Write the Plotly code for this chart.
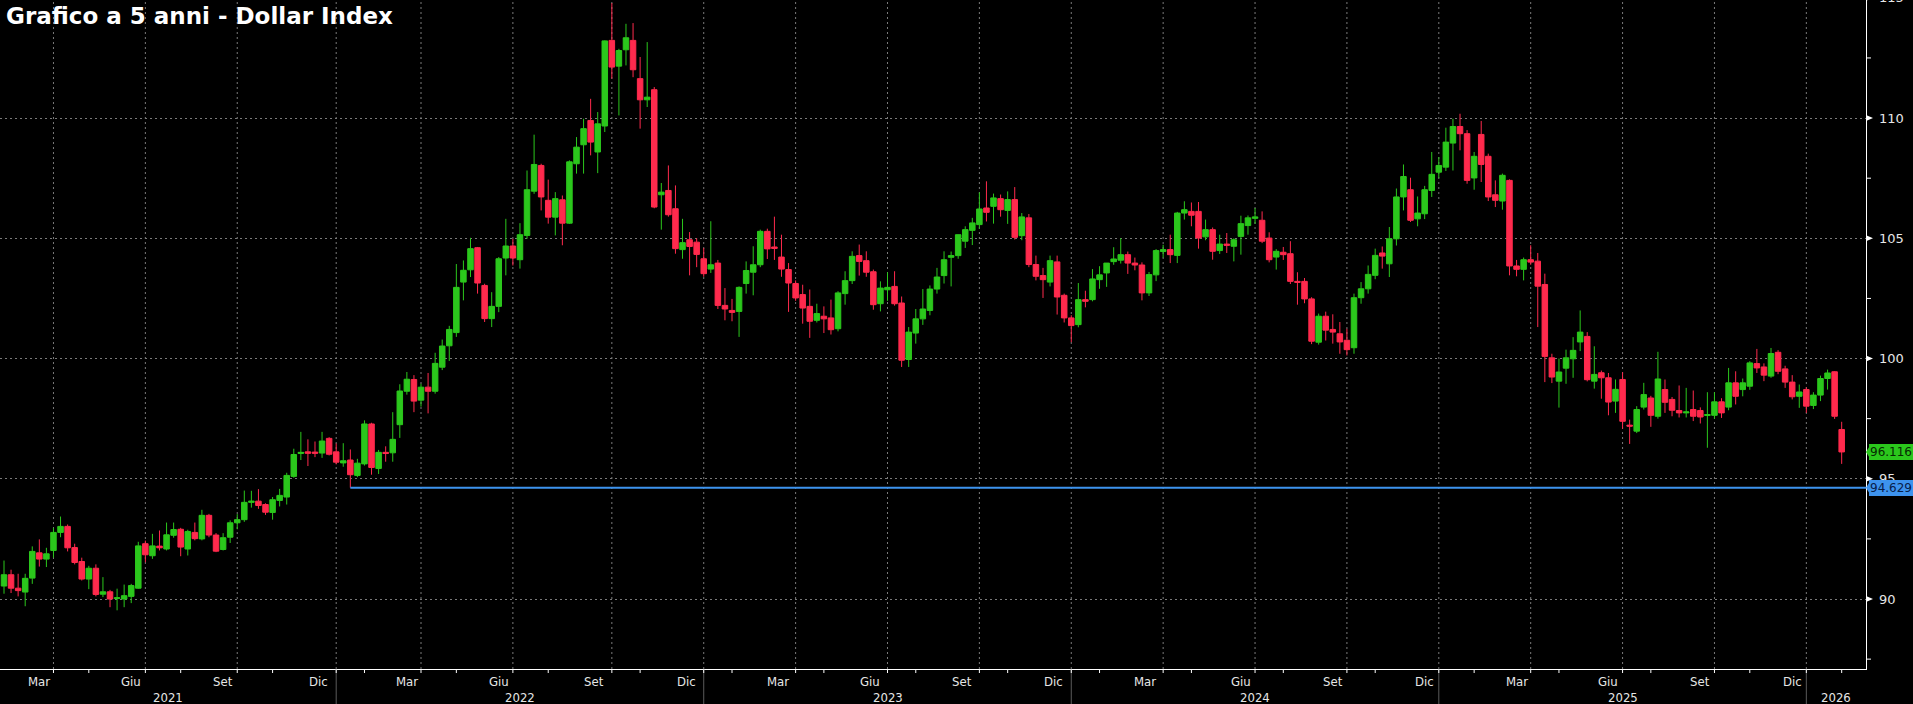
import pandas as pd
import plotly.graph_objects as go

# ---------------- data (weekly candles, Dollar Index) ----------------
first_week = "2021-02-05"

opens = [
    90.54, 91.01, 90.45, 90.29, 90.87, 91.92, 91.66, 92.02, 92.77, 93.02,
    92.14, 91.56, 90.83, 91.28, 90.20, 90.30, 90.02, 90.00, 90.11, 90.45,
    92.30, 91.80, 92.20, 92.08, 92.65, 92.90, 92.08, 92.77, 92.50, 93.48,
    92.66, 92.06, 92.57, 93.17, 93.30, 94.02, 94.07, 93.93, 93.60, 94.10,
    94.24, 95.10, 96.05, 96.12, 96.11, 96.07, 96.68, 96.12, 95.66, 95.78,
    95.14, 95.62, 97.28, 95.43, 96.10, 96.08, 97.25, 98.64, 99.13, 98.27,
    98.81, 98.64, 99.64, 100.53, 101.08, 103.18, 103.69, 104.61, 103.04, 101.66,
    102.17, 104.18, 104.68, 104.11, 105.12, 106.96, 108.03, 106.58, 105.88, 106.60,
    105.63, 108.10, 108.89, 109.90, 108.59, 109.67, 113.23, 112.16, 112.84, 113.23,
    111.64, 110.76, 111.18, 106.81, 106.99, 106.23, 104.53, 104.94, 104.84, 104.15,
    103.72, 103.97, 102.21, 102.00, 101.96, 103.12, 103.59, 103.90, 105.29, 104.64,
    104.22, 103.70, 103.12, 102.66, 102.17, 101.59, 101.76, 101.69, 101.24, 102.70,
    103.24, 104.28, 104.07, 103.61, 102.28, 102.86, 103.00, 102.31, 99.96, 101.06,
    101.65, 102.00, 102.89, 103.45, 104.21, 104.28, 104.88, 105.33, 105.57, 106.26,
    106.33, 106.65, 106.16, 106.61, 105.11, 105.85, 103.91, 103.45, 103.18, 104.02,
    102.63, 101.69, 101.41, 102.45, 102.45, 103.28, 103.56, 104.03, 104.09, 104.32,
    103.97, 103.89, 102.73, 103.48, 104.45, 104.53, 104.29, 106.05, 106.12, 106.12,
    105.06, 105.36, 104.49, 104.76, 104.67, 105.08, 105.53, 105.83, 105.75, 105.01,
    104.22, 104.42, 104.36, 103.21, 103.21, 102.48, 100.68, 101.76, 101.21, 101.03,
    100.76, 100.45, 102.53, 102.90, 103.46, 104.39, 103.94, 104.98, 106.72, 107.02,
    105.81, 106.02, 106.99, 107.75, 107.96, 108.96, 109.65, 109.35, 107.51, 109.32,
    108.41, 106.81, 106.55, 107.41, 103.85, 103.71, 104.11, 104.05, 103.08, 100.03,
    99.06, 99.60, 99.99, 100.69, 100.92, 99.06, 99.41, 99.20, 98.23, 99.13,
    97.23, 96.98, 97.98, 98.36, 97.60, 98.71, 98.30, 97.84, 97.74, 97.88,
    97.84, 97.63, 97.64, 98.20, 97.98, 98.99, 98.71, 98.85, 99.79, 99.65,
    99.27, 100.26, 99.57, 99.02, 98.43, 98.71, 98.05, 98.48, 99.17, 99.45, 97.05,
]

highs = [
    91.60, 91.22, 91.05, 91.05, 92.19, 92.48, 92.13, 92.96, 93.43, 93.10,
    92.30, 91.72, 91.38, 91.44, 90.91, 90.38, 90.43, 90.60, 90.63, 92.38,
    92.43, 92.71, 92.85, 93.18, 93.18, 92.96, 92.88, 93.18, 93.71, 93.54,
    92.74, 92.74, 93.27, 93.53, 94.51, 94.50, 94.57, 93.98, 94.24, 94.58,
    95.25, 96.25, 96.95, 96.64, 96.55, 96.95, 96.73, 96.47, 96.48, 96.22,
    95.83, 97.43, 97.33, 96.20, 96.35, 97.77, 98.93, 99.44, 99.31, 98.95,
    99.40, 100.24, 100.79, 101.36, 103.93, 104.08, 105.02, 104.64, 103.11, 102.76,
    104.22, 105.81, 104.98, 105.63, 107.82, 109.31, 108.10, 107.44, 106.92, 106.78,
    108.24, 109.21, 109.97, 110.80, 110.25, 113.23, 114.78, 112.88, 113.92, 113.95,
    112.54, 113.16, 111.29, 107.30, 108.03, 107.20, 105.81, 105.26, 105.00, 104.60,
    105.71, 104.10, 102.93, 102.48, 103.00, 104.04, 104.67, 105.36, 105.40, 105.90,
    105.15, 103.97, 103.25, 103.07, 102.87, 102.28, 102.17, 102.45, 102.80, 103.63,
    104.46, 104.74, 104.46, 103.70, 103.21, 103.59, 103.63, 102.58, 101.31, 102.06,
    102.89, 103.04, 103.77, 104.46, 104.45, 105.16, 105.50, 105.85, 106.91, 107.37,
    106.86, 106.82, 106.95, 107.13, 106.05, 106.01, 104.28, 103.77, 104.28, 104.28,
    102.70, 101.80, 103.14, 102.82, 103.72, 103.84, 103.97, 104.63, 105.01, 104.45,
    104.20, 104.00, 103.60, 104.55, 104.73, 105.15, 106.10, 106.54, 106.49, 106.51,
    105.78, 105.45, 105.15, 105.22, 105.00, 105.94, 105.95, 106.26, 106.12, 105.25,
    104.55, 104.64, 104.88, 103.59, 103.35, 102.55, 101.87, 101.95, 101.84, 101.52,
    101.24, 102.70, 103.18, 103.87, 104.57, 104.66, 105.47, 107.07, 108.07, 107.52,
    106.74, 107.18, 108.59, 108.38, 109.60, 109.97, 110.18, 109.50, 108.59, 109.88,
    108.52, 107.41, 107.69, 107.45, 104.10, 104.20, 104.71, 104.39, 103.53, 100.20,
    100.00, 100.37, 100.89, 102.00, 101.10, 100.51, 99.50, 99.40, 99.13, 99.43,
    97.46, 98.02, 98.99, 98.45, 100.28, 99.13, 98.40, 98.88, 98.78, 98.67,
    97.97, 98.60, 98.60, 98.35, 99.61, 99.47, 99.17, 99.89, 100.40, 99.80,
    100.44, 100.35, 99.70, 99.31, 98.92, 98.80, 98.60, 99.29, 99.54, 99.47, 97.37,
]

lows = [
    90.22, 90.25, 90.11, 89.70, 90.63, 91.35, 91.33, 91.72, 92.57, 91.98,
    91.44, 90.77, 90.41, 90.11, 90.08, 89.66, 89.53, 89.66, 89.83, 90.43,
    91.53, 91.67, 92.02, 92.02, 92.55, 91.78, 91.81, 92.44, 92.44, 92.57,
    91.95, 92.02, 92.33, 92.90, 93.21, 93.80, 93.75, 93.50, 93.30, 93.85,
    93.93, 95.04, 95.78, 95.53, 95.90, 95.87, 95.97, 95.60, 95.50, 94.63,
    95.07, 95.55, 95.17, 95.20, 95.71, 95.71, 96.70, 98.50, 97.77, 98.00,
    97.72, 98.54, 99.52, 99.90, 100.90, 102.42, 103.39, 102.70, 101.52, 101.31,
    101.93, 103.46, 103.87, 103.74, 104.98, 106.85, 106.16, 105.61, 105.12, 104.71,
    105.60, 107.69, 107.69, 108.45, 107.71, 109.42, 111.64, 110.11, 112.19, 111.70,
    109.56, 110.46, 106.25, 105.36, 105.90, 104.36, 104.15, 103.46, 103.80, 103.40,
    103.56, 102.06, 101.59, 101.55, 100.90, 102.70, 102.63, 103.80, 104.14, 104.10,
    103.40, 101.94, 102.40, 101.45, 100.86, 101.50, 101.06, 101.00, 101.13, 102.24,
    103.10, 103.45, 103.40, 102.03, 101.96, 102.40, 102.20, 99.65, 99.65, 100.62,
    101.40, 101.80, 102.70, 103.12, 103.00, 104.15, 104.60, 104.72, 105.40, 105.70,
    105.61, 105.90, 105.60, 104.95, 104.92, 103.80, 103.25, 102.52, 103.00, 101.83,
    101.50, 100.68, 101.30, 102.13, 102.38, 102.90, 102.98, 103.90, 103.95, 103.52,
    103.67, 102.42, 102.60, 103.22, 104.20, 103.97, 103.97, 105.78, 105.50, 104.57,
    104.92, 104.11, 104.35, 104.39, 104.04, 104.32, 105.15, 105.60, 104.80, 104.00,
    103.70, 104.10, 103.10, 102.24, 102.30, 100.60, 100.58, 100.75, 100.62, 100.20,
    100.13, 100.20, 102.28, 102.70, 103.30, 103.74, 103.39, 104.70, 106.16, 105.68,
    105.50, 105.80, 106.72, 107.50, 107.80, 107.82, 108.66, 107.27, 107.02, 107.34,
    106.55, 106.30, 106.19, 103.46, 103.42, 103.25, 103.90, 101.31, 99.02, 98.98,
    97.96, 98.95, 99.20, 100.31, 99.05, 98.75, 98.33, 97.64, 97.74, 97.08,
    96.45, 96.90, 97.88, 97.16, 97.50, 97.74, 97.60, 97.55, 97.55, 97.40,
    97.30, 96.29, 97.50, 97.53, 97.85, 98.09, 98.43, 98.70, 99.40, 99.06,
    99.20, 99.35, 98.78, 98.30, 97.95, 97.74, 97.90, 98.23, 98.71, 97.49, 95.62,
]

closes = [
    91.01, 90.45, 90.35, 90.86, 91.98, 91.66, 91.88, 92.77, 93.02, 92.13,
    91.52, 90.83, 91.28, 90.19, 90.30, 90.00, 90.05, 90.14, 90.56, 92.21,
    91.84, 92.21, 92.13, 92.67, 92.89, 92.16, 92.81, 92.51, 93.48, 92.66,
    91.99, 92.55, 93.17, 93.30, 94.02, 94.07, 93.89, 93.61, 94.13, 94.31,
    95.14, 96.01, 96.10, 96.06, 96.06, 96.57, 96.02, 95.69, 95.75, 95.17,
    95.65, 97.28, 95.47, 96.10, 96.05, 96.64, 98.65, 99.14, 98.23, 98.81,
    98.64, 99.80, 100.52, 101.21, 102.96, 103.67, 104.57, 103.14, 101.66, 102.17,
    104.15, 104.68, 104.18, 105.15, 107.02, 108.07, 106.72, 105.88, 106.65, 105.63,
    108.18, 108.79, 109.56, 109.00, 109.76, 113.21, 112.12, 112.81, 113.34, 112.01,
    110.76, 110.87, 106.30, 106.92, 105.98, 104.57, 104.82, 104.66, 104.33, 103.53,
    103.90, 102.21, 102.06, 101.92, 102.96, 103.66, 103.90, 105.29, 104.56, 104.58,
    103.72, 103.14, 102.52, 102.10, 101.55, 101.87, 101.65, 101.20, 102.73, 103.24,
    104.25, 104.04, 103.59, 102.24, 102.93, 102.96, 102.28, 99.93, 101.10, 101.65,
    102.06, 102.89, 103.39, 104.11, 104.28, 105.15, 105.36, 105.64, 106.22, 106.08,
    106.68, 106.19, 106.61, 105.04, 105.89, 103.91, 103.42, 103.28, 104.07, 102.56,
    101.69, 101.37, 102.45, 102.38, 103.31, 103.48, 103.97, 104.14, 104.32, 103.97,
    103.89, 102.73, 103.49, 104.49, 104.53, 104.32, 106.05, 106.19, 105.96, 105.01,
    105.36, 104.46, 104.76, 104.71, 104.94, 105.61, 105.85, 105.89, 104.88, 104.11,
    104.46, 104.32, 103.21, 103.17, 102.48, 100.72, 101.76, 101.18, 101.10, 100.69,
    100.37, 102.53, 102.90, 103.50, 104.29, 104.26, 104.98, 106.72, 107.57, 105.75,
    106.05, 107.02, 107.66, 108.03, 109.00, 109.65, 109.35, 107.41, 108.41, 108.07,
    106.72, 106.58, 107.62, 103.85, 103.71, 104.11, 104.01, 103.01, 100.09, 99.23,
    99.44, 100.03, 100.34, 101.10, 99.12, 99.34, 99.20, 98.19, 98.72, 97.39,
    97.19, 97.88, 98.50, 97.64, 99.15, 98.18, 97.85, 97.74, 97.78, 97.60,
    97.57, 97.67, 98.20, 97.74, 98.99, 98.43, 98.99, 99.82, 99.61, 99.31,
    100.21, 99.47, 99.02, 98.41, 98.61, 98.02, 98.48, 99.17, 99.40, 97.60, 96.116,
]

support_level = 94.629
support_from = "2022-01-14"

title_text = "Grafico a 5 anni - Dollar Index"
month_names = {3: "Mar", 6: "Giu", 9: "Set", 12: "Dic"}
y_major = [90, 95, 100, 105, 110, 115]
y_minor = [87.5, 92.5, 97.5, 102.5, 107.5, 112.5]
x_range = ["2021-02-01 01:00", "2026-02-23 02:00"]
y_range = [87.09, 114.91]

# ---------------- styling ----------------
GREEN = "#2bc71c"
RED = "#ff2a4d"
BLUE = "#3d93ee"
GRID = "#7a7a7a"
TEXT = "#e6e6e6"
AX_FONT = "DejaVu Sans, Verdana, sans-serif"
X_FONT = "Liberation Sans Narrow, Arial Narrow, DejaVu Sans Condensed, Liberation Sans, sans-serif"

W, H = 1913, 704
M_L, M_R, M_T, M_B = 0, 47, 0, 35
PLOT_H = H - M_T - M_B


def y_paper(v):
    return (v - y_range[0]) / (y_range[1] - y_range[0])


dates = pd.date_range(first_week, periods=len(closes), freq="W-FRI")

fig = go.Figure()
fig.add_trace(go.Candlestick(
    x=dates, open=opens, high=highs, low=lows, close=closes,
    increasing=dict(line=dict(color=GREEN, width=1), fillcolor=GREEN),
    decreasing=dict(line=dict(color=RED, width=1), fillcolor=RED),
    whiskerwidth=0, showlegend=False, hoverinfo="skip",
))

x_end = pd.Timestamp(x_range[1])
fig.add_trace(go.Scatter(
    x=[pd.Timestamp(support_from), x_end], y=[support_level, support_level],
    mode="lines", line=dict(color=BLUE, width=2), showlegend=False, hoverinfo="skip",
))

# month-end bars
month_end = [i for i in range(len(dates))
             if i == len(dates) - 1 or dates[i + 1].month != dates[i].month]
quarter_ends = [dates[i] for i in month_end if dates[i].month in (3, 6, 9, 12)]
year_ends = [dates[i] for i in month_end if dates[i].month == 12]
tick_bars = [dates[i] for i in month_end if dates[i].month in (1, 3, 4, 6, 7, 9, 10, 12)]

shapes = []
annotations = []

for d in quarter_ends:
    shapes.append(dict(type="line", xref="x", yref="paper", x0=d, x1=d, y0=0, y1=1,
                       line=dict(color=GRID, width=1, dash="2px,3px"), layer="below"))
for d in year_ends:
    shapes.append(dict(type="line", xref="x", yref="paper", x0=d, x1=d,
                       y0=0, y1=-M_B / PLOT_H, line=dict(color="#5a5a5a", width=1)))
for d in tick_bars:
    shapes.append(dict(type="line", xref="x", yref="paper", x0=d, x1=d,
                       y0=0, y1=-4 / PLOT_H, line=dict(color="white", width=1)))

# month labels centred in their month
for k, i in enumerate(month_end):
    m = dates[i].month
    if m in month_names and k > 0:
        prev = dates[month_end[k - 1]]
        c = prev + (dates[i] - prev) / 2
        annotations.append(dict(x=c, xref="x", y=0, yref="paper", yanchor="top", yshift=-3,
                                text=month_names[m], showarrow=False,
                                font=dict(family=X_FONT, size=13, color=TEXT)))

# year labels
bounds = [pd.Timestamp(x_range[0])] + list(year_ends) + [x_end]
for lo, hi in zip(bounds[:-1], bounds[1:]):
    c = lo + (hi - lo) / 2
    annotations.append(dict(x=c, xref="x", y=0, yref="paper", yanchor="top", yshift=-19,
                            text=str(c.year), showarrow=False,
                            font=dict(family=X_FONT, size=13, color=TEXT)))

# y axis labels, triangles, minor ticks
for v in y_major:
    annotations.append(dict(x=1, xref="paper", xanchor="left", xshift=11,
                            y=y_paper(v), yref="paper", yanchor="middle",
                            text=str(v), showarrow=False,
                            font=dict(family=AX_FONT, size=13, color=TEXT)))
    shapes.append(dict(type="path", xref="paper", xsizemode="pixel", xanchor=1,
                       yref="paper", ysizemode="pixel", yanchor=y_paper(v),
                       path="M0,3 L7,0 L0,-3 Z", fillcolor="white", line=dict(width=0)))
for v in y_minor:
    shapes.append(dict(type="line", xref="paper", xsizemode="pixel", xanchor=1, x0=0, x1=5,
                       yref="y", y0=v, y1=v, line=dict(color="white", width=1)))


# price tags
def tag(value, text, bg, fg):
    shapes.append(dict(type="path", xref="paper", xsizemode="pixel", xanchor=1,
                       yref="y", ysizemode="pixel", yanchor=value,
                       path="M0,0 L5,8 L5,-8 Z", fillcolor=bg, line=dict(width=0)))
    annotations.append(dict(x=1, xref="paper", xanchor="left", xshift=3, y=value, yref="y",
                            text=text, showarrow=False, bgcolor=bg, borderpad=1,
                            borderwidth=0,
                            font=dict(family=AX_FONT, size=12, color=fg)))


tag(support_level, f"{support_level:.3f}", BLUE, "#08204a")
tag(closes[-1], f"{closes[-1]:.3f}", GREEN, "#062a02")

annotations.append(dict(x=0, xref="paper", xanchor="left", xshift=4, y=1, yref="paper",
                        yanchor="top", yshift=-1, text=f"<b>{title_text}</b>", showarrow=False,
                        font=dict(family="DejaVu Sans, sans-serif", size=23, color="white")))

fig.update_layout(
    width=W, height=H,
    margin=dict(l=M_L, r=M_R, t=M_T, b=M_B),
    paper_bgcolor="black", plot_bgcolor="black",
    boxgap=0.22, boxgroupgap=0,
    shapes=shapes, annotations=annotations,
    showlegend=False,
    xaxis=dict(type="date", range=x_range, showgrid=False, zeroline=False,
               showticklabels=False, ticks="", showline=True, linecolor="white", linewidth=1,
               rangeslider=dict(visible=False), fixedrange=True),
    yaxis=dict(range=y_range, side="right", tickmode="array", tickvals=y_major,
               showticklabels=False, ticks="", showgrid=True, gridcolor=GRID, gridwidth=1,
               griddash="2px,3px", zeroline=False, showline=True, linecolor="white",
               linewidth=1, fixedrange=True),
)

fig.write_html("out.html")
